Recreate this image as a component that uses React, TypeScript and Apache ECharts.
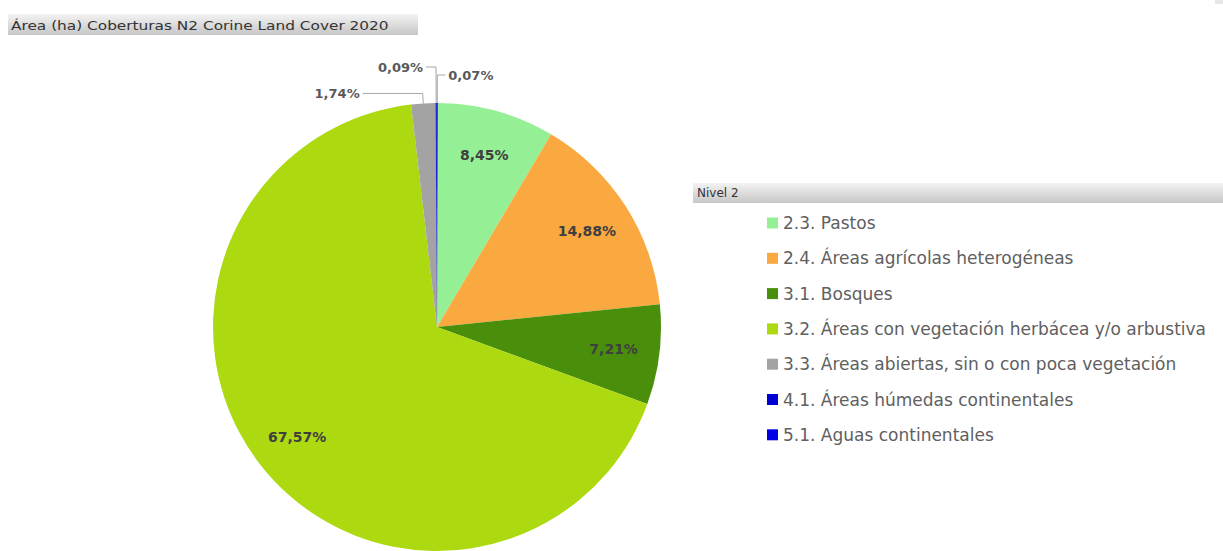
import React, { useEffect, useRef } from "react";
import * as echarts from "echarts";

const categories = [
  "2.3. Pastos",
  "2.4. Áreas agrícolas heterogéneas",
  "3.1. Bosques",
  "3.2. Áreas con vegetación herbácea y/o arbustiva",
  "3.3. Áreas abiertas, sin o con poca vegetación",
  "4.1. Áreas húmedas continentales",
  "5.1. Aguas continentales",
];
const percents = [8.45, 14.88, 7.21, 67.57, 1.74, 0.09, 0.07];
const colors = ["#95F095", "#F9A93F", "#4A8F0C", "#ACD90F", "#A3A3A3", "#0000D4", "#0000E6"];
const insideLabel = [true, true, true, true, false, false, false];
const outsideLine = [null, null, null, null, [10, 60], [36, 10], [28, 8]];

const title = "Área (ha) Coberturas N2 Corine Land Cover 2020";
const legendTitle = "Nivel 2";

const fmt = (v: number) => v.toFixed(2).replace(".", ",") + "%";

export default function App() {
  const ref = useRef<HTMLDivElement>(null);
  useEffect(() => {
    if (!ref.current) return;
    const chart = echarts.init(ref.current, undefined, { renderer: "svg" });
    const barGrad = () =>
      new echarts.graphic.LinearGradient(0, 0, 0, 1, [
        { offset: 0, color: "#f3f3f3" },
        { offset: 1, color: "#c6c6c6" },
      ]);
    const mainData = categories.map((name, i) => {
      const d: any = {
        name,
        value: percents[i],
        itemStyle: { color: colors[i] },
      };
      if (outsideLine[i]) {
        d.label = {
          show: true,
          position: "outside",
          formatter: () => fmt(percents[i]),
          color: "#595959",
          fontWeight: "bold",
          fontSize: 13,
          fontFamily: "DejaVu Sans",
          distanceToLabelLine: 3,
        };
        d.labelLine = {
          show: true,
          length: outsideLine[i]![0],
          length2: outsideLine[i]![1],
          lineStyle: { color: "#a6a6a6", width: 1 },
        };
      } else {
        d.label = { show: false };
        d.labelLine = { show: false };
      }
      return d;
    });
    const overlayData = categories.map((name, i) => ({
      name,
      value: percents[i],
      itemStyle: { color: "rgba(0,0,0,0)" },
      label: { show: insideLabel[i] },
    }));
    chart.setOption({
      animation: false,
      graphic: [
        {
          type: "rect",
          shape: { x: 8, y: 14, width: 410, height: 21 },
          style: { fill: barGrad() },
          silent: true,
        },
        {
          type: "text",
          x: 11,
          y: 25,
          scaleX: 1.18,
          style: {
            text: title,
            fill: "#333333",
            fontSize: 13,
            fontFamily: "DejaVu Sans",
            verticalAlign: "middle",
          },
        },
        {
          type: "rect",
          shape: { x: 693, y: 183, width: 530, height: 20 },
          style: { fill: barGrad() },
          silent: true,
        },
        {
          type: "text",
          x: 697,
          y: 193,
          style: {
            text: legendTitle,
            fill: "#333333",
            fontSize: 12,
            fontFamily: "DejaVu Sans",
            verticalAlign: "middle",
          },
        },
        {
          type: "rect",
          shape: { x: 1215, y: 0, width: 8, height: 4 },
          style: { fill: "#e6e6e6" },
          silent: true,
        },
      ],
      legend: {
        orient: "vertical",
        left: 767,
        top: 214,
        padding: 0,
        itemWidth: 11,
        itemHeight: 11,
        itemGap: 17.3,
        icon: "rect",
        data: categories,
        textStyle: {
          color: "#606060",
          fontSize: 17,
          lineHeight: 18,
          fontFamily: "DejaVu Sans",
        },
        selectedMode: false,
      },
      series: [
        {
          type: "pie",
          center: [437, 327],
          radius: [0, 224],
          startAngle: 89.8,
          clockwise: true,
          avoidLabelOverlap: false,
          data: mainData,
          emphasis: { disabled: true },
          itemStyle: { borderWidth: 0 },
        },
        {
          type: "pie",
          center: [437, 327],
          radius: [0, 350],
          startAngle: 89.8,
          clockwise: true,
          silent: true,
          avoidLabelOverlap: false,
          legendHoverLink: false,
          data: overlayData,
          label: {
            position: "inside",
            formatter: (p: any) => fmt(p.value),
            color: "#3f3f3f",
            fontWeight: "bold",
            fontSize: 14,
            fontFamily: "DejaVu Sans",
          },
          labelLine: { show: false },
          emphasis: { disabled: true },
        },
      ],
    });
    return () => chart.dispose();
  }, []);
  return (
    <div
      ref={ref}
      style={{ position: "fixed", left: 0, top: 0, width: 1223, height: 551, background: "#fff" }}
    />
  );
}
